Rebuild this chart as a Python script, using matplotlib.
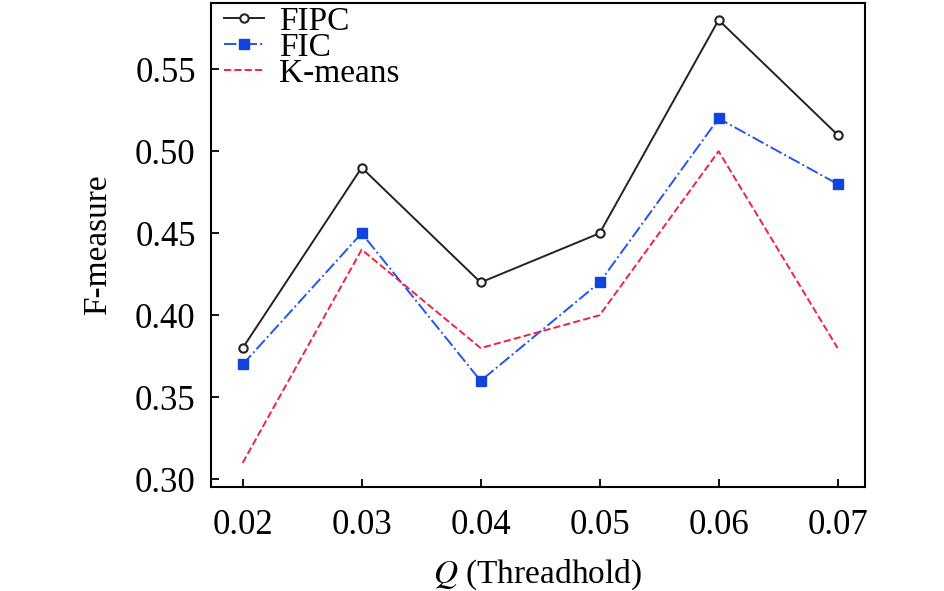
import matplotlib
matplotlib.use("Agg")
import matplotlib.pyplot as plt

q = [0.02, 0.03, 0.04, 0.05, 0.06, 0.07]
fipc = [0.38, 0.49, 0.42, 0.45, 0.58, 0.51]
fic = [0.37, 0.45, 0.36, 0.42, 0.52, 0.48]
kmeans = [0.31, 0.44, 0.38, 0.40, 0.50, 0.38]
yticks = [0.30, 0.35, 0.40, 0.45, 0.50, 0.55]

plt.rcParams['font.family'] = ['Liberation Serif', 'DejaVu Serif']
plt.rcParams['mathtext.fontset'] = 'stix'

fig = plt.figure(figsize=(9.45, 5.91), dpi=100)
ax = fig.add_axes([0.2233, 0.176, 0.692, 0.819])

ax.plot(q, fipc, color='#222222', lw=1.4, marker='o', ms=6, mfc='white', mec='#222222', mew=1.5, label='FIPC')
ax.plot(q, fic, color='#2255ee', lw=1.4, ls='-.', marker='s', ms=7, mfc='#1144dd', mec='#1144dd', label='FIC')
ax.plot(q, kmeans, color='#ee2244', lw=1.4, ls='--', label='K-means')

ax.set_xlim(0.01734, 0.0723)
ax.set_ylim(0.2953, 0.5904)
ax.set_xticks(q)
ax.set_xticklabels([f'{v:.2f}' for v in q])
ax.set_yticks(yticks)
ax.set_yticklabels([f'{v:.2f}' for v in yticks])
ax.tick_params(direction='in', labelsize=25, length=6, width=1.3)
ax.tick_params(axis='y', pad=11)
ax.tick_params(axis='x', pad=16)
for s in ax.spines.values():
    s.set_linewidth(1.5)

ax.set_xlabel(r'$Q$ (Threadhold)', fontsize=24, labelpad=11)
ax.set_ylabel('F-measure', fontsize=24, labelpad=16)

leg = ax.legend(loc='upper left', bbox_to_anchor=(0.0, 1.02), fontsize=24, frameon=False,
                handlelength=1.2, handletextpad=0.45, labelspacing=-0.14,
                borderpad=0.1, borderaxespad=0.3)

fig.savefig('out.png', dpi=100)
